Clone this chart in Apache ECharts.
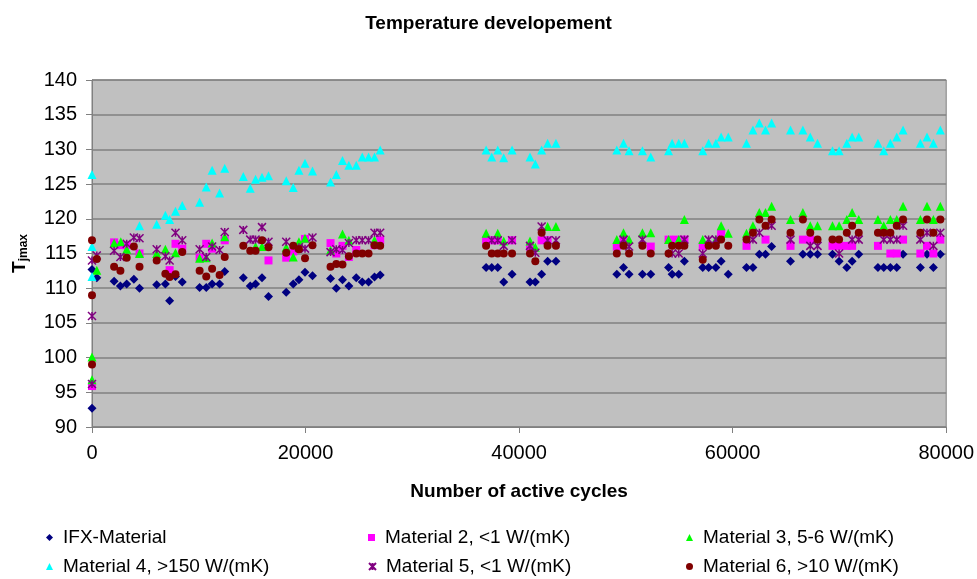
<!DOCTYPE html>
<html>
<head>
<meta charset="utf-8">
<script src="https://cdn.jsdelivr.net/npm/echarts@6/dist/echarts.min.js"></script>
<style>html,body{margin:0;padding:0;background:#fff}#c{width:977px;height:579px}</style>
</head>
<body>
<div id="c"></div>
<script>
const xTicks = [0, 20000, 40000, 60000, 80000];
const yTicks = [90, 95, 100, 105, 110, 115, 120, 125, 130, 135, 140];
const seriesNames = ["IFX-Material", "Material 2, <1 W/(mK)", "Material 3, 5-6 W/(mK)", "Material 4, >150 W/(mK)", "Material 5, <1 W/(mK)", "Material 6, >10 W/(mK)"];

const ifx = [[0,92.7],[0,112.7],[450,111.5],[2070,111.0],[2660,110.3],[3250,110.6],[3920,111.3],[4450,110.0],[6060,110.5],[6870,110.6],[7270,108.2],[7820,111.7],[8450,110.9],[10080,110.1],[10700,110.1],[11250,110.6],[11950,110.6],[12430,112.4],[14170,111.5],[14820,110.3],[15320,110.6],[15920,111.5],[16530,108.8],[18190,109.4],[18850,110.6],[19380,111.2],[19950,112.3],[20650,111.8],[22340,111.4],[22880,110.0],[23460,111.2],[24060,110.3],[24750,111.5],[25310,110.9],[25900,110.9],[26460,111.6],[26990,111.9],[36910,113],[37440,113],[38000,113],[38560,110.9],[39340,112],[41020,110.9],[41520,110.9],[42110,112],[42670,113.9],[43450,113.9],[49150,112],[49780,113],[50300,112],[51550,112],[52330,112],[54000,113],[54330,112],[54950,112],[55480,113.9],[57200,113],[57750,113],[58430,113],[58920,113.9],[59590,112],[61300,113],[61900,113],[62500,114.9],[63080,114.9],[63650,116],[65420,113.9],[66580,114.9],[67270,114.9],[67950,114.9],[69350,114.9],[69970,113.9],[70690,113],[71190,113.9],[71810,114.9],[73610,113],[74150,113],[74770,113],[75370,113],[75960,114.9],[77580,113],[78200,114.9],[78800,113],[79450,114.9]];

const mat2 = [[0,95.9],[2070,116.6],[2660,116.2],[3250,116.2],[4450,115.0],[7270,112.6],[7820,116.4],[8450,115.7],[10080,114.4],[10700,116.4],[11250,115.7],[12430,116.9],[16530,114.0],[18190,114.4],[18850,115.3],[19950,117.1],[22340,116.5],[22880,115.0],[23460,116.1],[24060,114.5],[24750,115.5],[26460,116.2],[26990,116.9],[36910,116.9],[37440,116.9],[38000,116.9],[39340,116.9],[41020,116],[42110,116.9],[42670,116.9],[49150,116],[49780,117],[52330,116],[54000,117],[54700,117],[55480,117],[57200,116.1],[58920,117.9],[61300,116.1],[63080,117],[65420,116.1],[66580,117],[67270,117],[69350,116.1],[69970,116.1],[70690,116.1],[71190,116.1],[73610,116.1],[74770,115],[75370,115],[75960,117],[77580,115],[78200,116.1],[78800,115],[79450,117]];

const mat3 = [[0,96.8],[0,100.1],[450,112.6],[2070,116.5],[2700,116.7],[3250,115.6],[4450,115.0],[6060,115.0],[6870,115.6],[7820,115.1],[10080,114.3],[10700,114.4],[11250,116.5],[12430,117.4],[15320,116],[15920,116],[18190,115.9],[18850,114.5],[19380,116.7],[19950,117.2],[22340,115.5],[23460,117.8],[24060,116.9],[26460,116.9],[36910,117.9],[38000,117.9],[38560,116.8],[41020,116.8],[41520,115.9],[42670,118.9],[43450,118.9],[49150,117],[49780,118],[50300,117],[51550,118],[52330,118],[54000,117],[54950,117],[55480,119.9],[57200,117],[58430,117],[58920,119],[59590,117.9],[61300,117.9],[61900,119],[62500,120.9],[63080,120.9],[63650,121.8],[65420,119.9],[66580,120.9],[67270,119],[67950,119],[69350,119],[69970,119],[70690,119.9],[71190,120.9],[71810,119.9],[73610,119.9],[74150,119],[74770,119.9],[75370,119.9],[75960,121.8],[77580,119.9],[78200,121.8],[78800,119.9],[79450,121.8]];

const mat4 = [[0,126.4],[0,116],[0,111.7],[4450,119.0],[6060,119.2],[6870,120.5],[7270,119.9],[7820,121.1],[8450,121.9],[10080,122.4],[10700,124.6],[11250,127.0],[11950,123.7],[12430,127.3],[14170,126.1],[14820,124.4],[15320,125.7],[15920,126.0],[16530,126.2],[18190,125.5],[18850,124.5],[19380,127.0],[19950,128.0],[20650,126.9],[22340,125.3],[22880,126.4],[23460,128.4],[24060,127.7],[24750,127.7],[25310,128.9],[25900,128.9],[26460,128.9],[26990,129.9],[36910,129.9],[37440,128.9],[38000,129.9],[38560,128.8],[39340,129.9],[41020,128.9],[41520,127.9],[42110,129.9],[42670,130.9],[43450,130.9],[49150,129.9],[49780,130.9],[50300,129.8],[51550,129.8],[52330,128.9],[54000,129.8],[54330,130.9],[54950,130.9],[55480,130.9],[57200,129.8],[57750,130.9],[58430,130.9],[58920,131.8],[59590,131.8],[61300,130.9],[61900,132.8],[62500,133.8],[63080,132.8],[63650,133.8],[65420,132.8],[66580,132.8],[67270,131.8],[67950,130.9],[69350,129.8],[69970,129.8],[70690,130.9],[71190,131.8],[71810,131.8],[73610,130.9],[74150,129.8],[74770,130.9],[75370,131.8],[75960,132.8],[77580,130.9],[78200,131.8],[78800,130.9],[79450,132.8]];

const mat5 = [[0,96.2],[0,106.0],[0,114.0],[450,114.7],[2070,115.4],[2660,114.5],[3250,116.4],[3920,117.3],[4450,117.2],[6060,115.6],[6870,114.6],[7270,114.0],[7820,118.0],[8450,116.9],[10080,115.6],[10700,114.5],[11250,116.0],[11950,115.5],[12430,118.1],[14170,118.4],[14820,117.0],[15320,117.0],[15920,118.8],[16530,116.7],[18190,116.7],[19380,115.9],[19950,115.7],[20650,117.3],[22340,115.2],[22880,115.6],[23460,115.5],[24060,116.5],[24750,116.9],[25310,116.9],[25900,116.9],[26460,118],[26990,118],[37440,116.9],[38000,116.9],[38560,116.1],[39340,116.9],[41020,116.1],[41520,115.1],[42110,118.9],[42670,116.9],[43450,116.9],[49780,117],[50300,116],[51550,117],[54330,115],[54950,115],[55480,117],[57200,115],[57750,117],[58430,117],[61900,117],[62500,118],[63650,119],[65420,117],[67270,116.1],[67950,116.1],[69970,115],[71190,117],[71810,117],[74150,117],[74770,117],[75370,117],[75960,119],[77580,117],[78200,118],[78800,116.1],[79450,118]];

const mat6 = [[0,99.0],[0,109.0],[0,116.9],[450,114.2],[2070,113.1],[2660,112.5],[3250,114.4],[3920,116.0],[4450,113.1],[6060,114.0],[6870,112.1],[7270,111.6],[7820,112.0],[8450,115.2],[10080,112.5],[10700,111.7],[11250,112.8],[11950,111.9],[12430,114.5],[14170,116.1],[14820,115.4],[15320,115.4],[15920,116.9],[16530,115.9],[18190,115.1],[18850,116.1],[19380,115.6],[19950,114.3],[20650,116.2],[22340,113.1],[22880,113.5],[23460,113.4],[24060,114.6],[24750,115.0],[25310,115.0],[25900,115.0],[26460,116.2],[26990,116.1],[36910,116.1],[37440,115],[38000,115],[38560,115],[39340,115],[41020,115],[41520,113.9],[42110,118],[42670,116.1],[43450,116.1],[49150,115],[49780,116.1],[50300,115],[51550,116.1],[52330,115],[54000,115],[54330,116.1],[54950,116.1],[55480,116.1],[57200,114.1],[57750,116.1],[58430,116.1],[58920,117],[59590,116.1],[61300,117],[61900,118],[62500,119.9],[63080,119],[63650,119.9],[65420,118],[66580,119.9],[67270,118],[67950,117],[69350,117],[69970,117],[70690,118],[71190,119],[71810,118],[73610,118],[74150,118],[74770,118],[75370,119],[75960,119.9],[77580,118],[78200,119.9],[78800,118],[79450,119.9]];

const FONT = '"Liberation Sans", Arial, sans-serif';
const asterisk = 'path://M0,0L10,10M10,0L0,10M5,0L5,10';

const chart = echarts.init(document.getElementById('c'), null, {renderer: 'canvas'});
const legendText = {fontFamily: FONT, fontSize: 19, color: '#000', padding: [0, 0, 0, 5]};
function legend(left, top, name) {
  return {left: left, top: top, orient: 'horizontal', padding: 0, itemGap: 0, itemWidth: 7, itemHeight: 7,
    textStyle: legendText, data: [name], selectedMode: false};
}
const colX = [46, 368, 686];
const rowY = [528, 557];
chart.setOption({
  animation: false,
  backgroundColor: '#fff',
  title: {text: 'Temperature developement', left: 'center', top: 9,
    textStyle: {fontFamily: FONT, fontSize: 19, fontWeight: 'bold', color: '#000'}},
  legend: [
    legend(colX[0], rowY[0], seriesNames[0]),
    legend(colX[1], rowY[0], seriesNames[1]),
    legend(colX[2], rowY[0], seriesNames[2]),
    legend(colX[0], rowY[1], seriesNames[3]),
    legend(colX[1], rowY[1], seriesNames[4]),
    legend(colX[2], rowY[1], seriesNames[5])
  ],
  grid: {left: 92, right: 29, top: 80, bottom: 152, show: true, backgroundColor: '#C0C0C0', borderColor: '#808080', borderWidth: 1},
  xAxis: {type: 'value', min: xTicks[0], max: xTicks[xTicks.length-1], interval: xTicks[1]-xTicks[0],
    name: 'Number of active cycles', nameLocation: 'middle', nameGap: 55,
    nameTextStyle: {fontFamily: FONT, fontSize: 19, fontWeight: 'bold', color: '#000'},
    axisLine: {show: true, lineStyle: {color: '#808080'}},
    axisTick: {show: true, inside: false, length: 6, lineStyle: {color: '#808080'}},
    axisLabel: {fontFamily: FONT, fontSize: 20, color: '#000', margin: 16, formatter: v => String(v)},
    splitLine: {show: false}},
  yAxis: {type: 'value', min: yTicks[0], max: yTicks[yTicks.length-1], interval: yTicks[1]-yTicks[0],
    name: '{a|T}{b|jmax}', nameLocation: 'middle', nameGap: 62, nameRotate: 90,
    nameTextStyle: {rich: {a: {fontFamily: FONT, fontSize: 19, fontWeight: 'bold', color: '#000'},
      b: {fontFamily: FONT, fontSize: 12, fontWeight: 'bold', color: '#000', verticalAlign: 'bottom', padding: [9,0,0,0]}}},
    axisLine: {show: true, lineStyle: {color: '#808080'}},
    axisTick: {show: true, inside: false, length: 6, lineStyle: {color: '#808080'}},
    axisLabel: {fontFamily: FONT, fontSize: 20, color: '#000', margin: 15, formatter: v => String(v)},
    splitLine: {show: true, lineStyle: {color: '#808080', width: 1.5}}},
  series: [
    {name: seriesNames[0], type: 'scatter', data: ifx, symbol: 'diamond', symbolSize: 9, itemStyle: {color: '#000080', opacity: 1}},
    {name: seriesNames[1], type: 'scatter', data: mat2, symbol: 'rect', symbolSize: 8, itemStyle: {color: '#FF00FF', opacity: 1}},
    {name: seriesNames[2], type: 'scatter', data: mat3, symbol: 'triangle', symbolSize: 9, itemStyle: {color: '#00FF00', opacity: 1}},
    {name: seriesNames[3], type: 'scatter', data: mat4, symbol: 'triangle', symbolSize: 9, itemStyle: {color: '#00FFFF', opacity: 1}},
    {name: seriesNames[4], type: 'scatter', data: mat5, symbol: asterisk, symbolSize: 8, itemStyle: {color: 'rgba(0,0,0,0)', borderColor: '#800080', borderWidth: 1.5, opacity: 1}},
    {name: seriesNames[5], type: 'scatter', data: mat6, symbol: 'circle', symbolSize: 8, itemStyle: {color: '#800000', opacity: 1}}
  ]
});
</script>
</body>
</html>
